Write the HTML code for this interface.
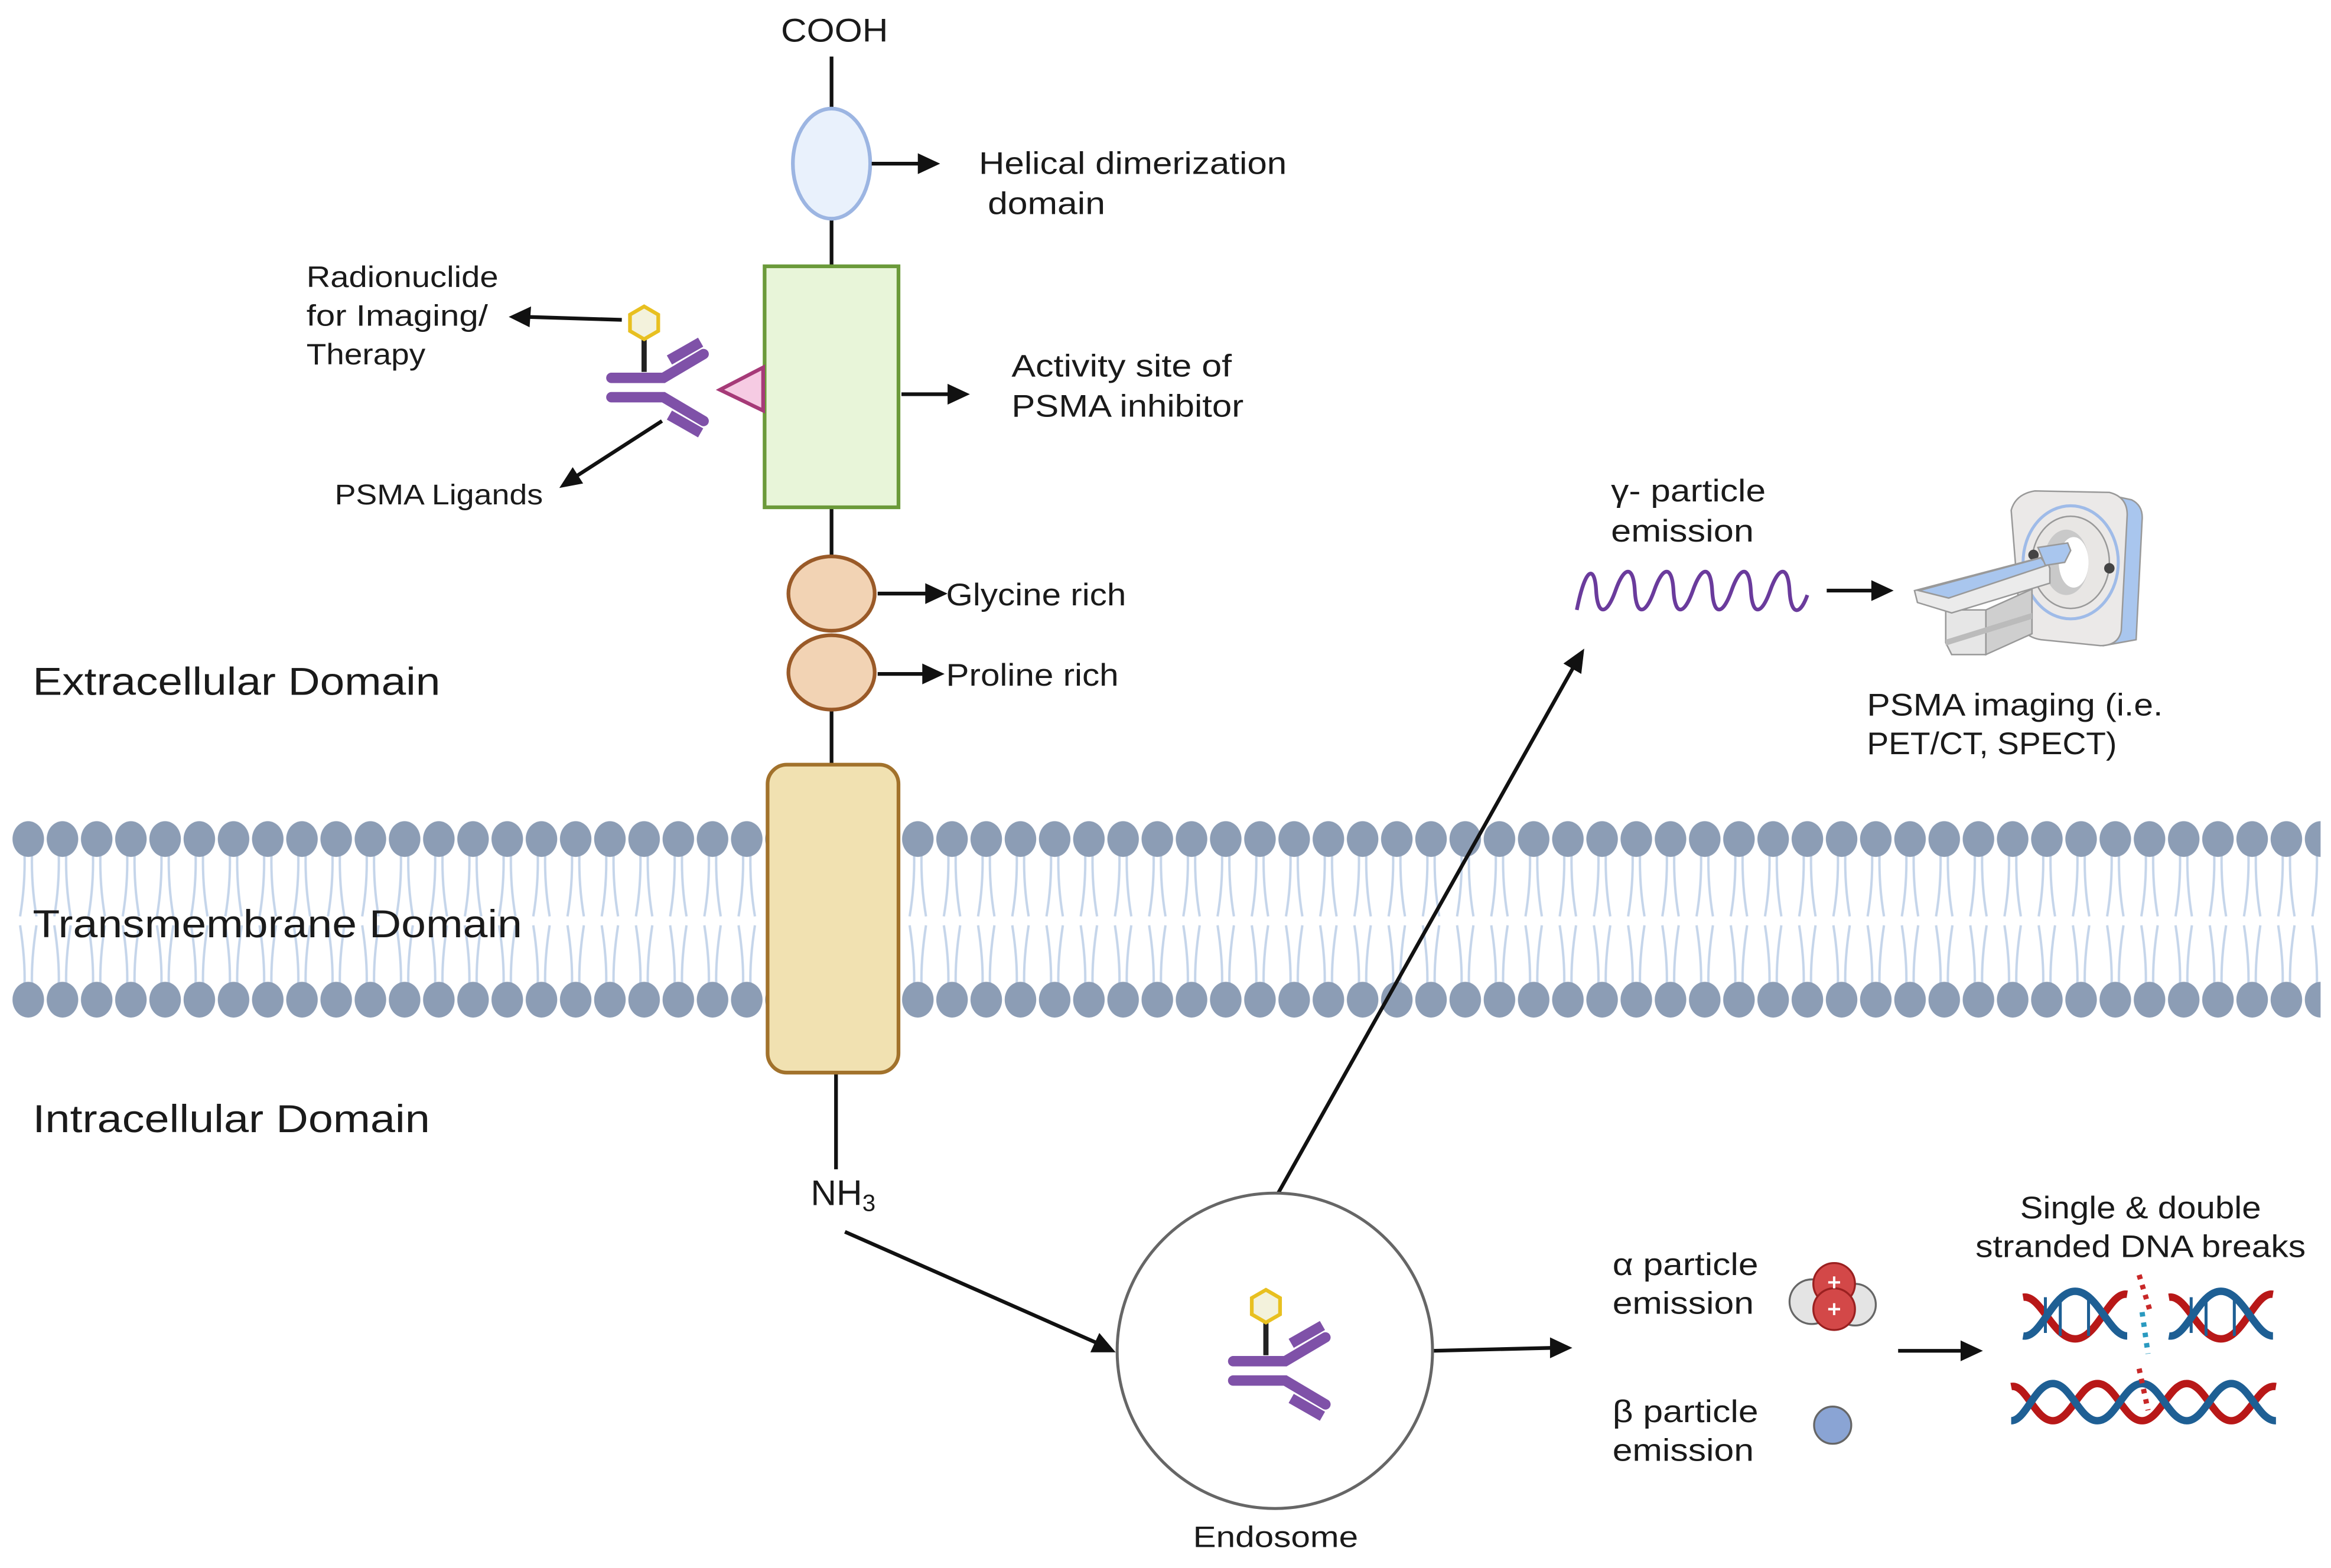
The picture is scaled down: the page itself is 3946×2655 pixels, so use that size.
<!DOCTYPE html>
<html><head><meta charset="utf-8"><style>
html,body{margin:0;padding:0;background:#fff}
svg{display:block}
text{font-family:"Liberation Sans",sans-serif;fill:#1a1a1a}
</style></head><body>
<svg width="3946" height="2655" viewBox="0 0 1567 1054" preserveAspectRatio="none" xmlns="http://www.w3.org/2000/svg">
<defs>
<pattern id="mem" patternUnits="userSpaceOnUse" x="7.5" y="550" width="23" height="136">
<g fill="none" stroke="#c5d5ea" stroke-width="1.6">
<path d="M9,24 Q9.5,45 6,66"/><path d="M14,24 Q13.5,45 17,66"/>
<path d="M6,72 Q9.5,95 9,112"/><path d="M17,72 Q13.5,95 14,112"/>
</g>
<ellipse cx="11.5" cy="14" rx="10.6" ry="12" fill="#8c9db5"/>
<ellipse cx="11.5" cy="122" rx="10.6" ry="12" fill="#8c9db5"/>
</pattern>
<g id="ab">
<line x1="0" y1="-22" x2="0" y2="0" stroke="#222" stroke-width="3.5"/>
<polygon points="0,-44 9.5,-38.5 9.5,-27.5 0,-22 -9.5,-27.5 -9.5,-38.5" fill="#f3f2dc" stroke="#e8c020" stroke-width="2.5"/>
<g fill="none" stroke="#7f51a8" stroke-width="7">
<path d="M-22,4 L13,4 L40,-12" stroke-linecap="round"/>
<path d="M-22,17 L13,17 L40,33" stroke-linecap="round"/>
<path d="M17,-8 L38,-20"/>
<path d="M17,29 L38,41"/>
</g>
</g>
</defs>

<rect x="7" y="550" width="1553" height="136" fill="url(#mem)"/>

<g stroke="#111" stroke-width="2.5">
<line x1="559" y1="38" x2="559" y2="75"/>
<line x1="559" y1="146" x2="559" y2="180"/>
<line x1="559" y1="340" x2="559" y2="376"/>
<line x1="559" y1="476" x2="559" y2="515"/>
<line x1="562" y1="720" x2="562" y2="786"/>
</g>
<ellipse cx="559" cy="110" rx="26" ry="37" fill="#e9f1fc" stroke="#9cb5e2" stroke-width="2.5"/>
<rect x="514" y="179" width="90" height="162" fill="#e8f5d9" stroke="#6b9a3a" stroke-width="2.5"/>
<ellipse cx="559" cy="399" rx="29" ry="25" fill="#f2d3b4" stroke="#9a5a28" stroke-width="2.5"/>
<ellipse cx="559" cy="452" rx="29" ry="25" fill="#f2d3b4" stroke="#9a5a28" stroke-width="2.5"/>
<rect x="516" y="514" width="88" height="207" rx="13" fill="#f1e1b1" stroke="#a2722c" stroke-width="2.5"/>

<polygon points="484,262 513,247 513,276" fill="#f6cbe3" stroke="#a63a78" stroke-width="2.5"/>
<use href="#ab" x="433" y="250"/>

<g stroke="#111" stroke-width="2.5" fill="none">
<line x1="586" y1="110" x2="620" y2="110"/>
<line x1="606" y1="265" x2="640" y2="265"/>
<line x1="590" y1="399" x2="625" y2="399"/>
<line x1="590" y1="453" x2="623" y2="453"/>
<line x1="418" y1="215" x2="354" y2="213"/>
<line x1="445" y1="283" x2="386" y2="321"/>
<line x1="568" y1="828" x2="738" y2="903"/>
<line x1="857" y1="806" x2="1058" y2="448"/>
<line x1="963" y1="908" x2="1045" y2="906"/>
<line x1="1228" y1="397" x2="1260" y2="397"/>
<line x1="1276" y1="908" x2="1320" y2="908"/>
</g>
<g fill="#111">
<polygon points="632,110 617,103 617,117"/>
<polygon points="652,265 637,258 637,272"/>
<polygon points="637,399 622,392 622,406"/>
<polygon points="635,453 620,446 620,460"/>
<polygon points="342,213 357,206 356,220"/>
<polygon points="376,328 385,314 392,325"/>
<polygon points="750,909 733,909 739,896"/>
<polygon points="1065,436 1063,453 1051,446"/>
<polygon points="1057,906 1042,899 1042,913"/>
<polygon points="1273,397 1258,390 1258,404"/>
<polygon points="1333,908 1318,901 1318,915"/>
</g>

<circle cx="857" cy="908" r="106" fill="#fff" stroke="#666" stroke-width="2"/>
<use href="#ab" x="851" y="911"/>

<path d="M1060,410 C1066,380 1072,380 1073,397 C1074,414 1080,414 1086,397 C1092,380 1098,380 1099,397 C1100,414 1106,414 1112,397 C1118,380 1124,380 1125,397 C1126,414 1132,414 1138,397 C1144,380 1150,380 1151,397 C1152,414 1158,414 1164,397 C1170,380 1176,380 1177,397 C1178,414 1184,414 1190,397 C1196,380 1202,380 1203,397 C1204,414 1210,414 1215,400" fill="none" stroke="#6a3b9c" stroke-width="2.5"/>

<!-- scanner -->
<g stroke="#999" stroke-width="1">
<path d="M1410,331 L1433,336 Q1441,340 1440,350 L1436,430 L1414,434 Z" fill="#a9c6ee"/>
<path d="M1352,343 Q1355,332 1368,330 L1418,331 Q1430,334 1430,346 L1426,424 Q1424,434 1412,434 L1372,430 Q1360,428 1358,418 Z" fill="#ebe9e8"/>
<ellipse cx="1392" cy="378" rx="32" ry="38" fill="none" stroke="#9fbbe8" stroke-width="2"/>
<ellipse cx="1392" cy="378" rx="26" ry="31" fill="#e8e6e4"/>
<ellipse cx="1389" cy="378" rx="15" ry="22" fill="#c9c9c9" stroke="none"/>
<ellipse cx="1394" cy="378" rx="10" ry="17" fill="#fff" stroke="none"/>
<circle cx="1367" cy="373" r="3.5" fill="#444" stroke="none"/>
<circle cx="1418" cy="382" r="3.5" fill="#444" stroke="none"/>
<path d="M1308,410 L1335,410 L1335,440 L1312,440 L1308,432 Z" fill="#e6e6e6"/>
<path d="M1335,410 L1366,396 L1366,426 L1335,440 Z" fill="#cfcfcf"/>
<path d="M1308,430 L1366,412 L1366,416 L1308,434 Z" fill="#bbb" stroke="none"/>
<path d="M1287,397 L1375,374 L1378,382 L1378,392 L1312,412 L1289,405 Z" fill="#ebebeb"/>
<path d="M1290,397 L1372,375 L1376,380 L1310,402 Z" fill="#a9c6ee"/>
<path d="M1370,368 L1390,365 L1392,370 L1388,378 L1375,380 Z" fill="#a9c6ee"/>
</g>

<g stroke="#666" stroke-width="1.3">
<circle cx="1218" cy="875" r="15" fill="#e4e4e4"/>
<circle cx="1247" cy="877" r="14" fill="#e4e4e4"/>
<circle cx="1233" cy="863" r="14" fill="#d34848" stroke="#9a2020"/>
<circle cx="1233" cy="880" r="14" fill="#d34848" stroke="#9a2020"/>
<circle cx="1232" cy="958" r="12.5" fill="#8aa4d4"/>
</g>
<g stroke="#fff" stroke-width="1.6">
<line x1="1229" y1="862" x2="1237" y2="862"/><line x1="1233" y1="858" x2="1233" y2="866"/>
<line x1="1229" y1="880" x2="1237" y2="880"/><line x1="1233" y1="876" x2="1233" y2="884"/>
</g>

<!-- DNA -->
<g fill="none" stroke-width="5">
<path d="M1360,872 C1372,870 1380,900 1395,900 C1410,900 1418,868 1430,870" stroke="#b81818"/>
<path d="M1360,898 C1372,900 1380,868 1395,868 C1410,868 1418,898 1430,898" stroke="#1e5f94"/>
<path d="M1458,872 C1470,870 1478,900 1493,900 C1508,900 1516,868 1528,870" stroke="#b81818"/>
<path d="M1458,898 C1470,900 1478,868 1493,868 C1508,868 1516,898 1528,898" stroke="#1e5f94"/>
<path d="M1352,932 C1362,930 1368,955 1380,955 C1392,955 1398,930 1410,930 C1422,930 1428,955 1440,955 C1452,955 1458,930 1470,930 C1482,930 1488,955 1500,955 C1512,955 1518,930 1530,932" stroke="#b81818"/>
<path d="M1352,955 C1362,955 1368,930 1380,930 C1392,930 1398,955 1410,955 C1422,955 1428,930 1440,930 C1452,930 1458,955 1470,955 C1482,955 1488,930 1500,930 C1512,930 1518,955 1530,955" stroke="#1e5f94"/>
</g>
<g stroke="#1e5f94" stroke-width="2">
<line x1="1375" y1="872" x2="1375" y2="896"/><line x1="1385" y1="872" x2="1385" y2="898"/><line x1="1404" y1="870" x2="1404" y2="898"/>
<line x1="1473" y1="872" x2="1473" y2="896"/><line x1="1483" y1="872" x2="1483" y2="898"/><line x1="1502" y1="870" x2="1502" y2="898"/>
</g>
<g fill="none" stroke-width="3.5" stroke-dasharray="3,4">
<path d="M1438,857 L1445,880" stroke="#c82828"/>
<path d="M1440,882 L1444,910" stroke="#2a9ac0"/>
<path d="M1438,920 L1444,948" stroke="#c82828"/>
</g>

<text x="525" y="28" font-size="22" textLength="72" lengthAdjust="spacingAndGlyphs">COOH</text>
<text x="658" y="117" font-size="21" textLength="207" lengthAdjust="spacingAndGlyphs">Helical dimerization</text>
<text x="664" y="144" font-size="21" textLength="79" lengthAdjust="spacingAndGlyphs">domain</text>
<text x="680" y="253" font-size="21" textLength="148" lengthAdjust="spacingAndGlyphs">Activity site of</text>
<text x="680" y="280" font-size="21" textLength="156" lengthAdjust="spacingAndGlyphs">PSMA inhibitor</text>
<text x="206" y="193" font-size="20" textLength="129" lengthAdjust="spacingAndGlyphs">Radionuclide</text>
<text x="206" y="219" font-size="20" textLength="122" lengthAdjust="spacingAndGlyphs">for Imaging/</text>
<text x="206" y="245" font-size="20" textLength="80" lengthAdjust="spacingAndGlyphs">Therapy</text>
<text x="225" y="339" font-size="19" textLength="140" lengthAdjust="spacingAndGlyphs">PSMA Ligands</text>
<text x="636" y="407" font-size="21" textLength="121" lengthAdjust="spacingAndGlyphs">Glycine rich</text>
<text x="636" y="461" font-size="21" textLength="116" lengthAdjust="spacingAndGlyphs">Proline rich</text>
<text x="22" y="467" font-size="26" textLength="274" lengthAdjust="spacingAndGlyphs">Extracellular Domain</text>
<text x="22" y="630" font-size="26" textLength="329" lengthAdjust="spacingAndGlyphs">Transmembrane Domain</text>
<text x="22" y="761" font-size="26" textLength="267" lengthAdjust="spacingAndGlyphs">Intracellular Domain</text>
<text x="545" y="810" font-size="24">NH<tspan font-size="16" dy="4">3</tspan></text>
<text x="802" y="1040" font-size="20" textLength="111" lengthAdjust="spacingAndGlyphs">Endosome</text>
<text x="1083" y="337" font-size="21" textLength="104" lengthAdjust="spacingAndGlyphs">γ- particle</text>
<text x="1083" y="364" font-size="21" textLength="96" lengthAdjust="spacingAndGlyphs">emission</text>
<text x="1255" y="481" font-size="21" textLength="199" lengthAdjust="spacingAndGlyphs">PSMA imaging (i.e.</text>
<text x="1255" y="507" font-size="21" textLength="168" lengthAdjust="spacingAndGlyphs">PET/CT, SPECT)</text>
<text x="1084" y="857" font-size="21" textLength="98" lengthAdjust="spacingAndGlyphs">α particle</text>
<text x="1084" y="883" font-size="21" textLength="95" lengthAdjust="spacingAndGlyphs">emission</text>
<text x="1084" y="956" font-size="21" textLength="98" lengthAdjust="spacingAndGlyphs">β particle</text>
<text x="1084" y="982" font-size="21" textLength="95" lengthAdjust="spacingAndGlyphs">emission</text>
<text x="1358" y="819" font-size="21" textLength="162" lengthAdjust="spacingAndGlyphs">Single &amp; double</text>
<text x="1328" y="845" font-size="21" textLength="222" lengthAdjust="spacingAndGlyphs">stranded DNA breaks</text>
</svg>
</body></html>
